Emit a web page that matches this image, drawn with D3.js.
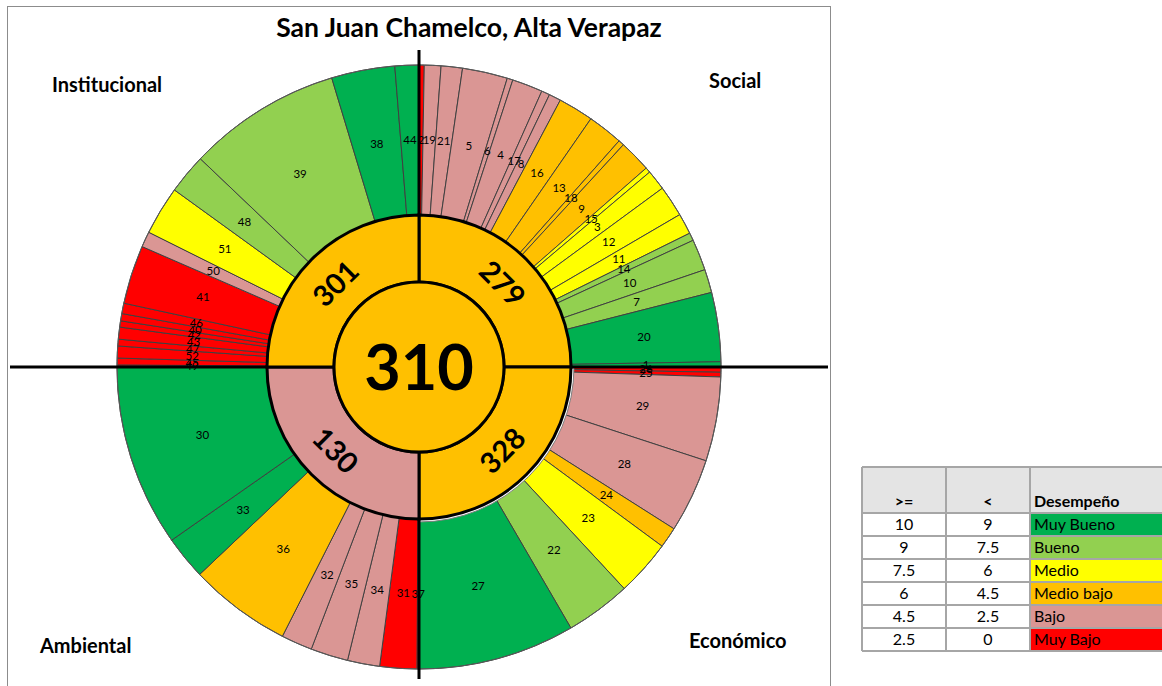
<!DOCTYPE html>
<html>
<head>
<meta charset="utf-8">
<script src="https://cdn.jsdelivr.net/npm/d3@7"></script>
<style>
  body { margin: 0; background: #fff; }
  text { font-family: Lato, "Open Sans", sans-serif; }
</style>
</head>
<body>
<div id="chart"></div>
<script>
// performance levels (legend)
var levelNames = ["Muy Bueno", "Bueno", "Medio", "Medio bajo", "Bajo", "Muy Bajo"];
var levelColors = ["#00B050", "#92D050", "#FFFF00", "#FFC000", "#DA9694", "#FF0000"];
var levelFrom = ["10", "9", "7.5", "6", "4.5", "2.5"];
var levelTo = ["9", "7.5", "6", "4.5", "2.5", "0"];

// dimensions, clockwise from 12 o'clock
var dimensions = ["Social", "Económico", "Ambiental", "Institucional"];
var dimensionScores = [279, 328, 130, 301];
var dimensionLevels = [3, 3, 4, 3];
var totalScore = 310;
var totalLevel = 3;

// indicators per dimension: id, angular weight, level index
var socialIds = [2, 19, 21, 5, 6, 4, 17, 8, 16, 13, 18, 9, 15, 3, 12, 11, 14, 10, 7, 20, 1];
var socialWeights = [1.0, 3.2, 4.1, 8.7, 1.1, 5.9, 1.6, 2.3, 6.8, 6.8, 1.1, 6.2, 1.0, 3.9, 6.0, 4.0, 1.5, 6.0, 4.5, 13.3, 1.0];
var socialLevels = [5, 4, 4, 4, 4, 4, 4, 4, 3, 3, 3, 3, 2, 2, 2, 2, 1, 1, 1, 0, 0];

var economicoIds = [26, 25, 29, 28, 24, 23, 22, 27];
var economicoWeights = [1.0, 0.9, 16.2, 14.3, 4.0, 10.8, 12.6, 30.2];
var economicoLevels = [5, 5, 4, 4, 3, 2, 1, 0];

var ambientalIds = [37, 31, 34, 35, 32, 36, 33, 30];
var ambientalWeights = [0.4, 7.1, 6.2, 7.2, 6.0, 19.7, 8.4, 35.0];
var ambientalLevels = [5, 5, 4, 4, 4, 3, 0, 0];

var institucionalIds = [49, 45, 52, 47, 43, 42, 40, 46, 41, 50, 51, 48, 39, 38, 44];
var institucionalWeights = [0.4, 1.3, 2.3, 1.3, 2.3, 1.2, 1.4, 2.0, 11.3, 3.0, 9.4, 7.7, 29.6, 12.2, 4.6];
var institucionalLevels = [5, 5, 5, 5, 5, 5, 5, 5, 5, 4, 2, 1, 1, 0, 0];

var svgWidth = 1162;
var svgHeight = 686;
var cx = 419, cy = 367;
var rCenter = 85, rMid = 152, rOuter = 302;

var svg = d3.select("#chart")
  .append("svg")
  .attr("width", svgWidth)
  .attr("height", svgHeight);

// chart frame
svg.append("rect")
  .attr("x", 7.5).attr("y", 6.5)
  .attr("width", 823).attr("height", 680)
  .attr("fill", "none")
  .attr("stroke", "#8c8c8c");

var chartGroup = svg.append("g")
  .attr("transform", `translate(${cx}, ${cy})`);

var groups = [
  { ids: socialIds, weights: socialWeights, levels: socialLevels },
  { ids: economicoIds, weights: economicoWeights, levels: economicoLevels },
  { ids: ambientalIds, weights: ambientalWeights, levels: ambientalLevels },
  { ids: institucionalIds, weights: institucionalWeights, levels: institucionalLevels }
];

var outerArc = d3.arc().innerRadius(rMid).outerRadius(rOuter);

var slices = [];
groups.forEach(function(g, q) {
  var rows = g.ids.map((id, i) => ({ id: id, w: g.weights[i], level: g.levels[i], q: q }));
  var pie = d3.pie()
    .value(d => d.w)
    .sort(null)
    .startAngle(q * Math.PI / 2)
    .endAngle((q + 1) * Math.PI / 2);
  slices = slices.concat(pie(rows));
});

// outer wedges
chartGroup.selectAll("path.wedge")
  .data(slices)
  .enter()
  .append("path")
  .attr("class", "wedge")
  .attr("d", outerArc)
  .attr("fill", d => levelColors[d.data.level])
  .attr("stroke", "#404040")
  .attr("stroke-width", 1);

// outer rim
chartGroup.append("circle")
  .attr("r", rOuter)
  .attr("fill", "none")
  .attr("stroke", "#595959")
  .attr("stroke-width", 1);

// thin gap arc in the Económico quarter
chartGroup.append("path")
  .attr("d", d3.arc().innerRadius(rMid).outerRadius(rMid + 3)
    .startAngle(Math.PI / 2).endAngle(Math.PI)())
  .attr("fill", "#fff")
  .attr("stroke", "#7f7f7f")
  .attr("stroke-width", 1);

// indicator labels
chartGroup.append("g")
  .selectAll("text")
  .data(slices)
  .enter()
  .append("text")
  .attr("x", d => outerArc.centroid(d)[0])
  .attr("y", d => outerArc.centroid(d)[1])
  .attr("text-anchor", "middle")
  .attr("dy", "0.35em")
  .attr("font-size", 11.5)
  .attr("fill", "#000")
  .text(d => d.data.id);

// axes
chartGroup.append("line")
  .attr("x1", 10 - cx).attr("x2", 828 - cx)
  .attr("y1", 0).attr("y2", 0)
  .attr("stroke", "#000").attr("stroke-width", 3);
chartGroup.append("line")
  .attr("x1", 0).attr("x2", 0)
  .attr("y1", 50 - cy).attr("y2", 679 - cy)
  .attr("stroke", "#000").attr("stroke-width", 3);

// dimension ring
var midArc = d3.arc().innerRadius(rCenter).outerRadius(rMid);
var midPie = d3.pie().value(1).sort(null);
var midSlices = midPie(dimensionScores);

chartGroup.selectAll("path.dim")
  .data(midSlices)
  .enter()
  .append("path")
  .attr("class", "dim")
  .attr("d", midArc)
  .attr("fill", (d, i) => levelColors[dimensionLevels[i]])
  .attr("stroke", "#000")
  .attr("stroke-width", 3);

chartGroup.selectAll("text.dim")
  .data(midSlices)
  .enter()
  .append("text")
  .attr("class", "dim")
  .attr("transform", function(d) {
    var a = (d.startAngle + d.endAngle) / 2;
    var deg = a * 180 / Math.PI;
    var rot = ((deg + 90) % 180) - 90;
    var r = 118;
    return `translate(${r * Math.sin(a)}, ${-r * Math.cos(a)}) rotate(${rot})`;
  })
  .attr("text-anchor", "middle")
  .attr("dy", "0.36em")
  .attr("font-size", 29)
  .attr("font-weight", "bold")
  .text(d => d.data);

// center
chartGroup.append("circle")
  .attr("r", rCenter)
  .attr("fill", levelColors[totalLevel])
  .attr("stroke", "#000")
  .attr("stroke-width", 3);

chartGroup.append("text")
  .attr("text-anchor", "middle")
  .attr("dy", "0.36em")
  .attr("font-size", 63)
  .attr("font-weight", "bold")
  .text(totalScore);

// title and dimension names
svg.append("text")
  .attr("x", 469).attr("y", 37)
  .attr("text-anchor", "middle")
  .attr("font-size", 26.5)
  .attr("font-weight", "bold")
  .text("San Juan Chamelco, Alta Verapaz");

var dimLabelPos = [[709, 88], [689, 648], [40, 653], [52, 92]];
svg.selectAll("text.dimname")
  .data(dimensions)
  .enter()
  .append("text")
  .attr("class", "dimname")
  .attr("x", (d, i) => dimLabelPos[i][0])
  .attr("y", (d, i) => dimLabelPos[i][1])
  .attr("font-size", 20)
  .attr("font-weight", "bold")
  .text(d => d);

// legend table
var colX = [862, 946, 1030, 1175];
var headTop = 467, headBottom = 513, rowH = 23;
var table = svg.append("g");

table.append("rect")
  .attr("x", colX[0]).attr("y", headTop)
  .attr("width", colX[3] - colX[0]).attr("height", headBottom - headTop)
  .attr("fill", "#E4E4E4");

table.selectAll("rect.cell")
  .data(levelNames)
  .enter()
  .append("rect")
  .attr("class", "cell")
  .attr("x", colX[2])
  .attr("y", (d, i) => headBottom + i * rowH)
  .attr("width", colX[3] - colX[2])
  .attr("height", rowH)
  .attr("fill", (d, i) => levelColors[i]);

// grid lines
var rowYs = d3.range(levelNames.length + 1).map(i => headBottom + i * rowH);
[headTop].concat(rowYs).forEach(function(y) {
  table.append("line")
    .attr("x1", colX[0]).attr("x2", colX[3])
    .attr("y1", y).attr("y2", y)
    .attr("stroke", "#A6A6A6").attr("stroke-width", 2);
});
colX.slice(0, 3).forEach(function(x) {
  table.append("line")
    .attr("x1", x).attr("x2", x)
    .attr("y1", headTop).attr("y2", rowYs[rowYs.length - 1])
    .attr("stroke", "#A6A6A6").attr("stroke-width", 2);
});

var headers = [">=", "<", "Desempeño"];
table.selectAll("text.head")
  .data(headers)
  .enter()
  .append("text")
  .attr("class", "head")
  .attr("x", (d, i) => i < 2 ? (colX[i] + colX[i + 1]) / 2 : colX[2] + 4)
  .attr("y", headBottom - 6)
  .attr("text-anchor", (d, i) => i < 2 ? "middle" : "start")
  .attr("font-size", 16)
  .attr("font-weight", "bold")
  .text(d => d);

var rowsG = table.selectAll("g.row")
  .data(levelNames)
  .enter()
  .append("g")
  .attr("class", "row")
  .attr("transform", (d, i) => `translate(0, ${headBottom + i * rowH + rowH / 2})`);

rowsG.append("text")
  .attr("x", (colX[0] + colX[1]) / 2)
  .attr("dy", "0.36em")
  .attr("text-anchor", "middle")
  .attr("font-size", 16)
  .text((d, i) => levelFrom[i]);
rowsG.append("text")
  .attr("x", (colX[1] + colX[2]) / 2)
  .attr("dy", "0.36em")
  .attr("text-anchor", "middle")
  .attr("font-size", 16)
  .text((d, i) => levelTo[i]);
rowsG.append("text")
  .attr("x", colX[2] + 4)
  .attr("dy", "0.36em")
  .attr("font-size", 16)
  .text(d => d);
</script>
</body>
</html>
